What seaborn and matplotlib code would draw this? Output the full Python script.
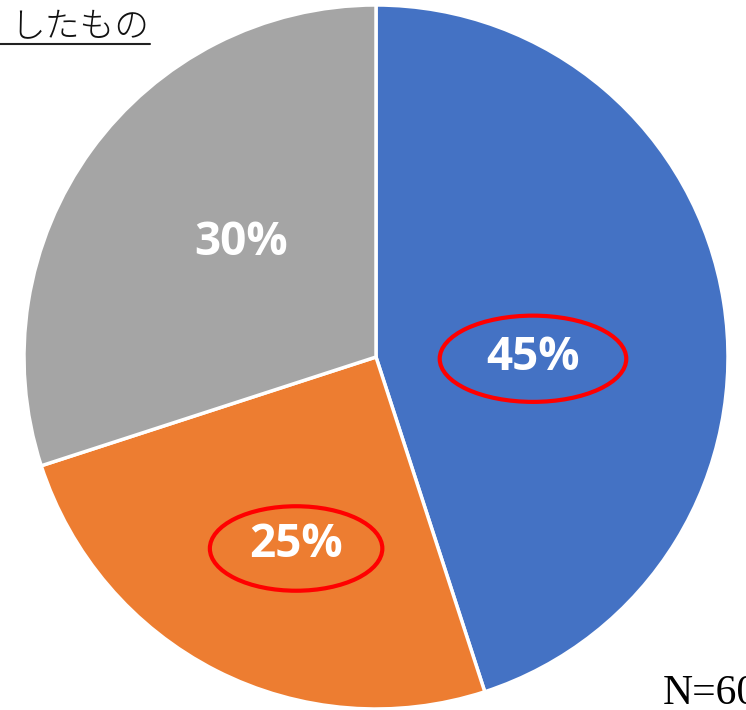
import matplotlib
matplotlib.use("Agg")
import matplotlib.pyplot as plt
from matplotlib.patches import Ellipse
import seaborn as sns

categories = ["A", "B", "C"]
values = [45, 25, 30]
pct_labels = ["45%", "25%", "30%"]
colors = ["#4472C4", "#ED7D31", "#A5A5A5"]
highlight = [True, True, False]

sns.set_theme(style="white")
plt.rcParams['font.family'] = ['Open Sans', 'DejaVu Sans']

fig = plt.figure(figsize=(7.46, 7.10), dpi=100)
ax = fig.add_axes([24/746, 1/710, 704/746, 704/710])
wedges, _ = ax.pie(values, colors=sns.color_palette(colors), startangle=90,
                   counterclock=False, radius=1,
                   wedgeprops=dict(edgecolor="white", linewidth=2.5))
ax.set_xlim(-1, 1)
ax.set_ylim(-1, 1)
ax.set_aspect("equal")
ax.axis("off")

# label positions (axes data units, radius = 1)
label_pos = [(0.446, 0.0), (-0.227, -0.534), (-0.384, 0.324)]
ellipse_size = [(0.53, 0.245), (0.49, 0.24)]
for i, (lab, (x, y)) in enumerate(zip(pct_labels, label_pos)):
    ax.text(x, y, lab, color="white", fontsize=33, fontweight="bold",
            family=['Open Sans', 'DejaVu Sans'], ha="center", va="center")
    if highlight[i]:
        w, h = ellipse_size[i]
        ax.add_patch(Ellipse((x, y - 0.005 if i == 0 else y - 0.01), w, h,
                             fill=False, edgecolor="#FF0000", linewidth=3, zorder=5))

fig.text(10/746, 1 - 27/710, "したもの", fontsize=25, color="#111111",
         family=['Noto Sans CJK JP', 'DejaVu Sans'], fontweight="light",
         ha="left", va="center")
fig.add_artist(plt.Line2D([0, 150/746], [1 - 44/710, 1 - 44/710],
                          color="#222222", linewidth=1.5))
fig.text(663/746, 1 - 704/710, "N=60", fontsize=30, color="black",
         family=['Liberation Serif', 'DejaVu Serif'], ha="left", va="baseline")

fig.savefig("out.png", dpi=100, facecolor="white")
